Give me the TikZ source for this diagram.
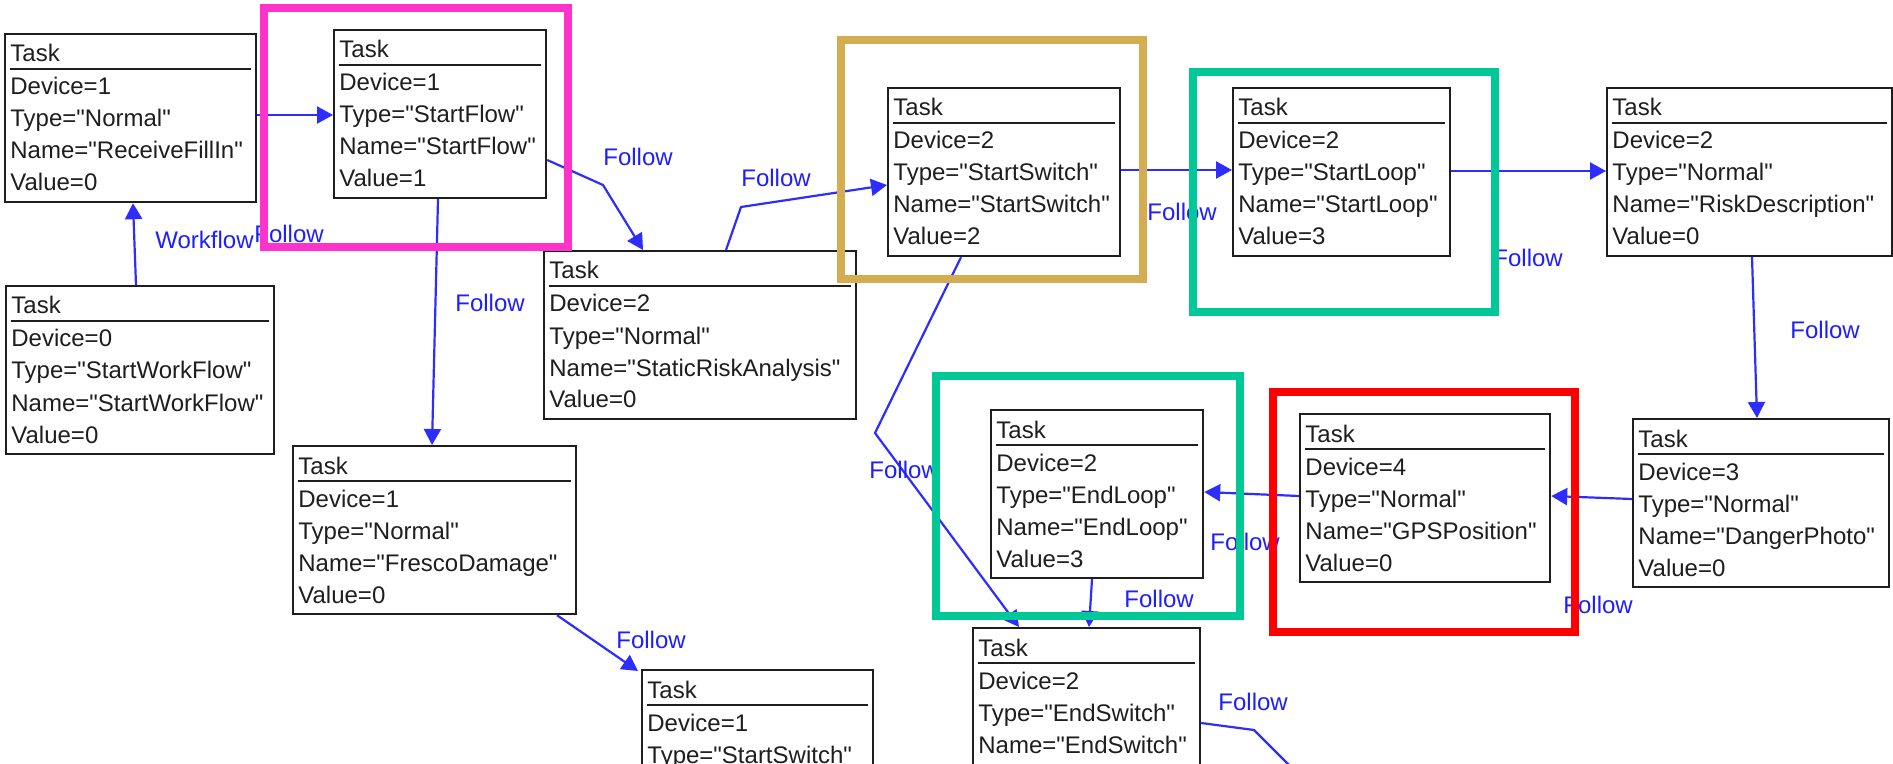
\documentclass[tikz,border=0pt]{standalone}
\usepackage{fontspec}
\setmainfont{Liberation Sans}[Ligatures=TeXOff]
\usetikzlibrary{calc,arrows.meta}

\definecolor{flowblue}{RGB}{45,45,255}
\definecolor{labelblue}{RGB}{30,30,255}
\definecolor{boxink}{RGB}{30,30,30}
\definecolor{hlpink}{RGB}{255,51,204}
\definecolor{hlgold}{RGB}{212,172,82}
\definecolor{hlgreen}{RGB}{0,200,150}
\definecolor{hlred}{RGB}{255,0,0}

\tikzset{
  x=0.5pt, y=-0.5pt,
  taskframe/.style={draw=boxink, line width=1.1pt, fill=white, rectangle,
    inner sep=0pt, minimum height=84pt},
  fieldtext/.style={anchor=base west, inner sep=0pt, text=boxink,
    font=\fontsize{12pt}{14pt}\selectfont},
  tasksep/.style={draw=boxink, line width=1.1pt},
  flow/.style={draw=flowblue, line width=1.1pt, line join=round,
    -{Triangle[length=8pt,width=8.5pt]}},
  flowlabel/.style={anchor=base west, inner sep=0pt, text=labelblue,
    font=\fontsize{12pt}{14pt}\selectfont},
  highlight/.style={line width=3.8pt},
}

% A task record: name, left, top, width (px), comma separated fields
\newcommand\taskbox[5]{%
  \node[taskframe, minimum width=#4*0.5pt, anchor=north west] (#1) at (#2,#3) {};
  \node[fieldtext] (#1-head) at ($(#1.north west)+(6,29)$) {Task};
  \draw[tasksep] ($(#1.north west)+(6,36)$) -- ($(#1.north east)+(-6,36)$);
  \foreach \fl [count=\k] in {#5} {
    \node[fieldtext] (#1-f\k) at ($(#1.north west)+(6,30+32*\k)$) {\fl};
  }%
}

\begin{document}
\begin{tikzpicture}
\useasboundingbox (0,0) rectangle (1893,764);
\clip (0,0) rectangle (1893,764);
\fill[white] (0,0) rectangle (1893,764);

% task records
\taskbox{recv}{4}{33}{251}{Device=1, Type="Normal", Name="ReceiveFillIn", Value=0}
\taskbox{sflow}{333}{29}{212}{Device=1, Type="StartFlow", Name="StartFlow", Value=1}
\taskbox{swf}{5}{285}{268}{Device=0, Type="StartWorkFlow", Name="StartWorkFlow", Value=0}
\taskbox{risk}{543}{250}{312}{Device=2, Type="Normal", Name="StaticRiskAnalysis", Value=0}
\taskbox{sswitch}{887}{87}{232}{Device=2, Type="StartSwitch", Name="StartSwitch", Value=2}
\taskbox{sloop}{1232}{87}{217}{Device=2, Type="StartLoop", Name="StartLoop", Value=3}
\taskbox{rdesc}{1606}{87}{285}{Device=2, Type="Normal", Name="RiskDescription", Value=0}
\taskbox{photo}{1632}{418}{256}{Device=3, Type="Normal", Name="DangerPhoto", Value=0}
\taskbox{gps}{1299}{413}{250}{Device=4, Type="Normal", Name="GPSPosition", Value=0}
\taskbox{eloop}{990}{409}{212}{Device=2, Type="EndLoop", Name="EndLoop", Value=3}
\taskbox{eswitch}{972}{627}{227}{Device=2, Type="EndSwitch", Name="EndSwitch"}
\taskbox{fresco}{292}{445}{283}{Device=1, Type="Normal", Name="FrescoDamage", Value=0}
\taskbox{sswitchb}{641}{669}{231}{Device=1, Type="StartSwitch"}

% bend points and the open end
\coordinate (bendSD) at (603,185);
\coordinate (bendRS) at (741,207);
\coordinate (bendSE) at (875,433);
\coordinate (bendEX) at (1254,730);
\coordinate (offEX) at (1318,794);

% connectors
\draw[flow] ($(swf.north west)+(131,0)$) -- ($(recv.south west)+(129,0)$);
\draw[flow] ($(recv.north east)+(0,82)$) -- ($(sflow.north west)+(0,86)$);
\draw[flow] ($(sflow.north east)+(0,131)$) -- (bendSD) -- ($(risk.north west)+(100,0)$);
\draw[flow] ($(risk.north west)+(183,0)$) -- (bendRS) -- ($(sswitch.north west)+(0,98)$);
\draw[flow] ($(sswitch.north east)+(0,83)$) -- ($(sloop.north west)+(0,83)$);
\draw[flow] ($(sloop.north east)+(0,84)$) -- ($(rdesc.north west)+(0,84)$);
\draw[flow] ($(rdesc.south west)+(146,0)$) -- ($(photo.north west)+(125,0)$);
\draw[flow] ($(photo.north west)+(0,81)$) -- ($(gps.north east)+(0,83)$);
\draw[flow] ($(gps.north west)+(0,83)$) -- ($(eloop.north east)+(0,83)$);
\draw[flow] ($(eloop.south west)+(102,0)$) -- ($(eswitch.north west)+(117,0)$);
\draw[flow] ($(sswitch.south west)+(74,0)$) -- (bendSE) -- ($(eswitch.north west)+(47,0)$);
\draw[flow] ($(sflow.south west)+(105,0)$) -- ($(fresco.north west)+(140,0)$);
\draw[flow] ($(fresco.south west)+(265,0)$) -- ($(sswitchb.north west)+(-3,2)$);
\draw[flow, -] ($(eswitch.north east)+(0,96)$) -- (bendEX) -- (offEX);

% connector labels
\node[flowlabel] (lbl-wf) at (155,249) {Workflow};
\node[flowlabel] (lbl-rs) at (254,243) {Follow};
\node[flowlabel] (lbl-sd) at (603,166) {Follow};
\node[flowlabel] (lbl-dr) at (741,187) {Follow};
\node[flowlabel] (lbl-sl) at (1147,221) {Follow};
\node[flowlabel] (lbl-lr) at (1493,267) {Follow};
\node[flowlabel] (lbl-rp) at (1790,339) {Follow};
\node[flowlabel] (lbl-pg) at (1563,613) {Follow};
\node[flowlabel] (lbl-ge) at (1210,550) {Follow};
\node[flowlabel] (lbl-ee) at (1124,607) {Follow};
\node[flowlabel] (lbl-se) at (869,478) {Follow};
\node[flowlabel] (lbl-sf) at (455,312) {Follow};
\node[flowlabel] (lbl-fs) at (616,648) {Follow};
\node[flowlabel] (lbl-ex) at (1218,710) {Follow};

% coloured highlight frames
\draw[highlight, hlpink] (264,8) rectangle (568,247);
\draw[highlight, hlgold] (841,40) rectangle (1143,279);
\draw[highlight, hlgreen] (1193,72) rectangle (1495,312);
\draw[highlight, hlgreen] (936,376) rectangle (1240,616);
\draw[highlight, hlred] (1273,392) rectangle (1575,632);
\end{tikzpicture}
\end{document}
